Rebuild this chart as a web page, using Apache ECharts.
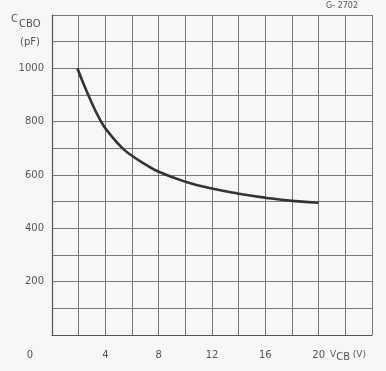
<!DOCTYPE html>
<html><head><meta charset="utf-8">
<script src="https://cdn.jsdelivr.net/npm/echarts@6/dist/echarts.min.js"></script>
<style>html,body{margin:0;padding:0;background:#f7f7f5}#c{width:386px;height:371px}</style>
</head><body><div id="c"></div>
<script>
const vcb = [1.9, 2.68, 3.68, 4.4, 5.3, 6, 7, 8, 10, 12, 14, 16, 18, 20];
const ccbo = [1000, 905, 800, 750, 700, 672, 640, 612, 575, 549, 530, 515, 503, 496];
const xTickLabels = ['0', '4', '8', '12', '16', '20'];
const yTickLabels = ['200', '400', '600', '800', '1000'];

const chart = echarts.init(document.getElementById('c'));
const font = 'DejaVu Sans';
chart.setOption({
  backgroundColor: '#f7f7f5',
  animation: false,
  grid: {left: 52, top: 15, right: 14, bottom: 36},
  xAxis: {
    type: 'value', min: 0, max: 24, interval: 2,
    axisLine: {show: true, lineStyle: {color: '#555', width: 1.2}},
    axisTick: {show: false},
    splitLine: {show: true, lineStyle: {color: '#777', width: 1}},
    axisLabel: {
      margin: 15, color: '#555', fontFamily: font, fontSize: 10,
      formatter: v => {
        const s = String(v);
        if (!xTickLabels.includes(s)) return '';
        return s === '0' ? '{z|0}' : s;
      },
      rich: {z: {padding: [0, 44, 0, 0], color: '#555', fontFamily: font, fontSize: 10}}
    }
  },
  yAxis: {
    type: 'value', min: 0, max: 1200, interval: 100,
    axisLine: {show: true, lineStyle: {color: '#555', width: 1.2}},
    axisTick: {show: false},
    splitLine: {show: true, lineStyle: {color: '#777', width: 1}},
    axisLabel: {
      margin: 8, color: '#555', fontFamily: font, fontSize: 10,
      formatter: v => yTickLabels.includes(String(v)) ? String(v) : ''
    }
  },
  series: [{
    type: 'line', smooth: 0.5, showSymbol: false,
    data: vcb.map((v, i) => [v, ccbo[i]]),
    lineStyle: {color: '#333', width: 2.6}
  }],
  graphic: [
    {type: 'text', left: 326, top: 2, style: {text: 'G- 2702', fill: '#555', font: '8px ' + font}},
    {type: 'text', left: 11, top: 14, style: {
      text: '{c|C}{s|CBO}', rich: {
        c: {fill: '#555', font: '10px ' + font, verticalAlign: 'top'},
        s: {fill: '#555', font: '10px ' + font, padding: [5, 0, 0, 1]}
      }}},
    {type: 'text', left: 20, top: 37, style: {text: '(pF)', fill: '#555', font: '10px ' + font}},
    {type: 'text', left: 330, top: 350, style: {
      text: '{v|V}{s|CB}{u| (V)}', rich: {
        v: {fill: '#555', font: '9px ' + font},
        s: {fill: '#555', font: '10px ' + font, padding: [6, 0, 0, 0]},
        u: {fill: '#555', font: '9px ' + font}
      }}}
  ]
});
</script></body></html>
